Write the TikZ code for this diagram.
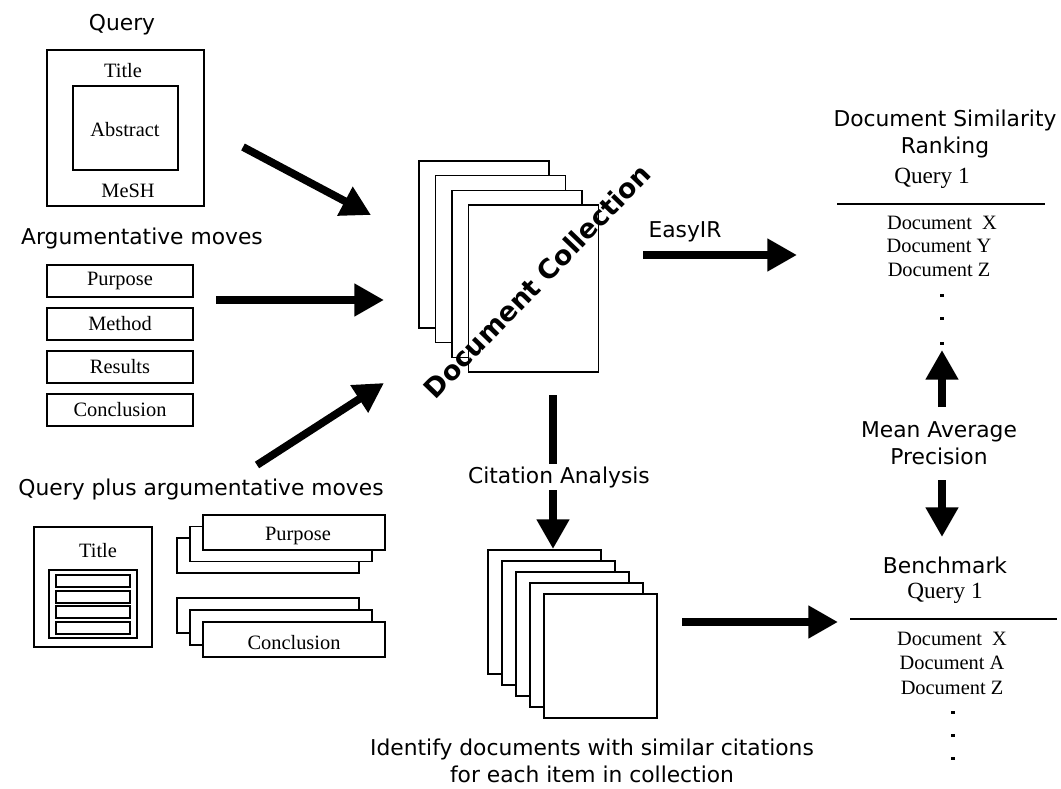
\documentclass[tikz,border=0pt]{standalone}
\usepackage{fontspec}
\setmainfont{Liberation Serif}
\setsansfont{DejaVu Sans}
\usetikzlibrary{arrows.meta}

\begin{document}
\begin{tikzpicture}[x=0.025cm, y=-0.025cm,
		box/.style={line width=1.1pt, fill=white},
		bigarrow/.style={line width=5.5pt, -{Triangle[length=21pt,width=22pt]}},
		lbl/.style={inner sep=0pt, font=\sffamily\fontsize{15.5}{19.5}\selectfont, align=center},
		ser/.style={inner sep=0pt, font=\rmfamily\fontsize{14.5}{17}\selectfont},
		qry/.style={inner sep=0pt, font=\rmfamily\fontsize{16.5}{19}\selectfont},
		rule/.style={line width=2pt}]
		\useasboundingbox (0,0) rectangle (1061,789);
		
		% query
		\node[lbl] (query) at (122,25) {Query};
		\draw[box] (47,50) rectangle (204,206);
		\draw[box] (73,86) rectangle (178,170);
		\node[ser] (qtitle) at (123,71) {Title};
		\node[ser] (qabs) at (125,130) {Abstract};
		\node[ser] (qmesh) at (128,191) {MeSH};
		
		% argumentative moves
		\node[lbl] (moves) at (142,238) {Argumentative moves};
		\foreach \y/\t in {265/Purpose,308/Method,351/Results,394/Conclusion}
		\draw[box] (47,\y) rectangle ++(146,32) node[ser, midway] {\t};
		
		% query plus moves
		\node[lbl] (plus) at (201,489) {Query plus argumentative moves};
		\draw[box] (34,527) rectangle (152,647);
		\node[ser] (ptitle) at (98,551) {Title};
		\draw[box] (49,570) rectangle (137,638);
		\foreach \y in {575,591,606,622}
		\draw[box] (56,\y) rectangle ++(74,12);
		\foreach \i in {0,1,2}
		\draw[box] ({177+13*\i},{538-11.5*\i}) rectangle ++(182,35);
		\node[ser] (ppurp) at (298,536) {Purpose};
		\foreach \i in {0,1,2}
		\draw[box] ({177+13*\i},{598+12*\i}) rectangle ++(182,35);
		\node[ser] (pconc) at (294,643) {Conclusion};
		
		% document collection
		\foreach \i in {0,...,3}
		\draw[box] ({419+16.5*\i},{161+14.7*\i}) rectangle ++(130,167);
		\node[inner sep=0pt, rotate=46, font=\sffamily\bfseries\fontsize{19}{21}\selectfont] (coll) at (537,281) {Document Collection};
		
		% arrows into the collection
		\coordinate (qOut) at (243,147);
		\coordinate (qIn) at (371,215);
		\coordinate (mOut) at (216,300);
		\coordinate (mIn) at (384,300);
		\coordinate (pOut) at (257,465);
		\coordinate (pIn) at (384,383);
		\draw[bigarrow] (qOut) -- (qIn);
		\draw[bigarrow] (mOut) -- (mIn);
		\draw[bigarrow] (pOut) -- (pIn);
		
		% easyir
		\coordinate (eOut) at (643,255);
		\coordinate (eIn) at (797,255);
		\draw[bigarrow] (eOut) -- (eIn);
		\node[lbl] (easy) at (685,232) {EasyIR};
		
		% citation analysis
		\coordinate (cOut) at (553,395);
		\coordinate (cIn) at (553,549);
		\draw[bigarrow] (cOut) -- (cIn);
		\node[lbl, fill=white, inner ysep=2pt, inner xsep=1pt] (cita) at (559,477) {Citation Analysis};
		\foreach \i in {0,...,4}
		\draw[box] ({488+14*\i},{550+11*\i}) rectangle ++(113,124);
		\node[lbl] (ident) at (592,761) {Identify documents with similar citations\\for each item in collection};
		\coordinate (bOut) at (682,622);
		\coordinate (bIn) at (838,622);
		\draw[bigarrow] (bOut) -- (bIn);
		
		% similarity ranking
		\node[lbl] (simrank) at (945,134) {Document Similarity\\Ranking};
		\node[qry] (rquery) at (932,178) {Query 1};
		\draw[rule] (837,204) -- (1045,204);
		\node[ser] (rX) at (942,223) {Document\ \ X};
		\node[ser] (rY) at (939,246) {Document Y};
		\node[ser] (rZ) at (939,270) {Document Z};
		\foreach \y in {295,318,343}
		\fill (940,\y-1.5) rectangle ++(4,3);
		
		% mean average precision
		\node[lbl] (map) at (939,443) {Mean Average\\Precision};
		\coordinate (uOut) at (942,407);
		\coordinate (uIn) at (942,350);
		\draw[bigarrow] (uOut) -- (uIn);
		\coordinate (dOut) at (942,480);
		\coordinate (dIn) at (942,537);
		\draw[bigarrow] (dOut) -- (dIn);
		
		% benchmark
		\node[lbl] (bench) at (945,565) {Benchmark};
		\node[qry] (bquery) at (945,593) {Query 1};
		\draw[rule] (850,619) -- (1057,619);
		\node[ser] (bX) at (952,639) {Document\ \ X};
		\node[ser] (bA) at (952,663) {Document A};
		\node[ser] (bZ) at (952,688) {Document Z};
		\foreach \y in {712,735,758}
		\fill (951,\y-1.5) rectangle ++(4,3);
\end{tikzpicture}
\end{document}
